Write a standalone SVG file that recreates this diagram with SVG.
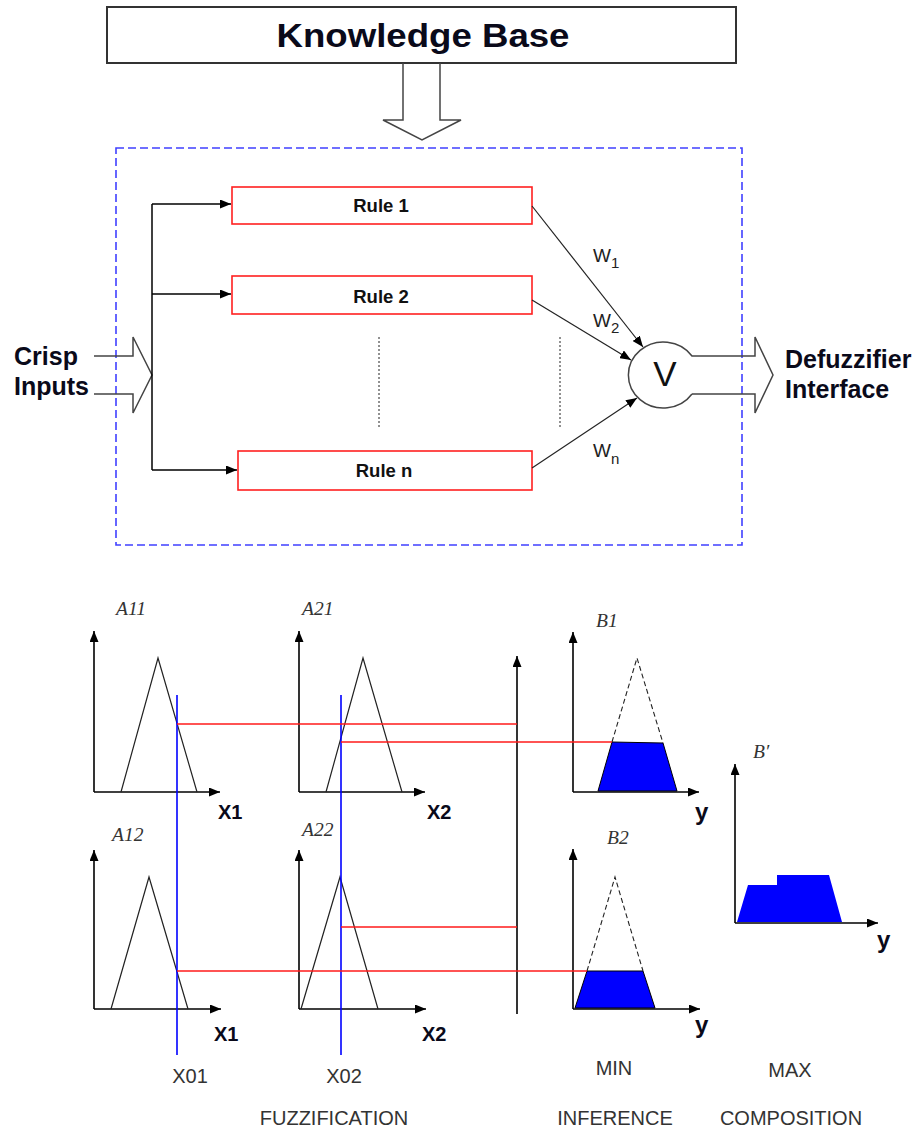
<svg xmlns="http://www.w3.org/2000/svg" width="921" height="1131" viewBox="0 0 921 1131">
<defs>
<marker id="ah" markerUnits="userSpaceOnUse" markerWidth="11" markerHeight="9" refX="11" refY="4.5" orient="auto"><path d="M0,0 L11,4.5 L0,9 z" fill="#000"/></marker>
<style>
.kb{fill:#fff;stroke:#333;stroke-width:2}
.hollow{fill:none;stroke:#444;stroke-width:1.5;stroke-linejoin:miter}
.rule{fill:#fff;stroke:#ff2020;stroke-width:1.6}
.rt{font-family:"Liberation Sans",Arial,sans-serif;font-weight:bold;font-size:18.5px;fill:#111;text-anchor:middle}
.bold{font-family:"Liberation Sans",Arial,sans-serif;font-weight:bold;fill:#0a0a1a}
.reg{font-family:"Liberation Sans",Arial,sans-serif;fill:#333;font-size:20px}
.it{font-family:"Liberation Serif","Times New Roman",serif;font-style:italic;font-size:19.5px;fill:#333}
.conn{stroke:#000;stroke-width:1.5;fill:none}
.thin{stroke:#222;stroke-width:1.2;fill:none}
.dot{stroke:#222;stroke-width:1;stroke-dasharray:2 2;fill:none}
.axis{stroke:#000;stroke-width:1.6;fill:none}
.tri{stroke:#222;stroke-width:1.2;fill:none}
.dtri{stroke:#222;stroke-width:1.1;fill:none;stroke-dasharray:5 3}
.blue{stroke:#0000ff;stroke-width:1.6;fill:none}
.red{stroke:#ff1a1a;stroke-width:1.6;fill:none}
.area{fill:#0000ff;stroke:#000;stroke-width:1}
.w{font-family:"Liberation Sans",Arial,sans-serif;fill:#222;font-size:19px}
</style>
</defs>

<g id="knowledge-base">
<rect class="kb" x="107" y="7" width="629" height="56"/>
<text class="bold" x="423" y="47" font-size="34" text-anchor="middle" textLength="293" lengthAdjust="spacingAndGlyphs">Knowledge Base</text>
<path class="hollow" d="M403,63 L403,120 L383,120 L422,140 L461,120 L440,120 L440,63"/>
</g>

<g id="inference-box">
<rect x="116" y="148" width="626" height="397" fill="none" stroke="#4040ff" stroke-width="1.6" stroke-dasharray="8 4"/>
</g>

<g id="crisp-inputs">
<path class="hollow" d="M94,356 L133,356 L133,337 L152,375 L133,413 L133,394 L94,394" stroke="#666"/>
<text class="bold" x="14" y="365" font-size="25">Crisp</text>
<text class="bold" x="14" y="395" font-size="25">Inputs</text>
</g>

<g id="rule1"><rect class="rule" x="232" y="187" width="300" height="37"/><text class="rt" x="381" y="212">Rule 1</text></g>
<g id="rule2"><rect class="rule" x="232" y="276" width="300" height="38"/><text class="rt" x="381" y="303">Rule 2</text></g>
<g id="rulen"><rect class="rule" x="238" y="451" width="294" height="39"/><text class="rt" x="384" y="477">Rule n</text></g>

<g id="or-node">
<path class="hollow" stroke="#333" d="M692,394 L755,394 L755,413 L773,375 L755,337 L755,356 L692,356 A35,33 0 1,0 692,394"/>
<text x="665" y="386" font-family="Liberation Sans,Arial,sans-serif" font-size="35" fill="#111" text-anchor="middle">V</text>
</g>

<g id="defuzzifier">
<text class="bold" x="785" y="368" font-size="25">Defuzzifier</text>
<text class="bold" x="785" y="398" font-size="25">Interface</text>
</g>

<g id="connectors">
<path class="conn" d="M152,204 L152,470"/>
<path class="conn" d="M152,204 L231,204" marker-end="url(#ah)"/>
<path class="conn" d="M152,294 L231,294" marker-end="url(#ah)"/>
<path class="conn" d="M152,470 L237,470" marker-end="url(#ah)"/>
<path class="thin" d="M532,206 L643,347" marker-end="url(#ah)"/>
<path class="thin" d="M532,300 L631,360" marker-end="url(#ah)"/>
<path class="thin" d="M532,468 L637,398" marker-end="url(#ah)"/>
<path class="dot" d="M379,337 L379,427"/>
<path class="dot" d="M560,337 L560,427"/>
</g>

<g id="weights">
<text class="w" x="593" y="262">W<tspan font-size="15" dy="6">1</tspan></text>
<text class="w" x="593" y="327">W<tspan font-size="15" dy="6">2</tspan></text>
<text class="w" x="593" y="457">W<tspan font-size="15" dy="7">n</tspan></text>
</g>

<g id="chart-a11">
<text class="it" x="116" y="615">A11</text>
<path class="axis" d="M94,792 L94,631" marker-end="url(#ah)"/>
<path class="axis" d="M94,792 L220,792" marker-end="url(#ah)"/>
<path class="tri" d="M121,792 L158,658 L197,792"/>
<text class="bold" x="218" y="819" font-size="20">X1</text>
</g>
<g id="chart-a21">
<text class="it" x="302" y="615">A21</text>
<path class="axis" d="M299,792 L299,631" marker-end="url(#ah)"/>
<path class="axis" d="M299,792 L425,792" marker-end="url(#ah)"/>
<path class="tri" d="M326,792 L363,658 L402,792"/>
<text class="bold" x="427" y="819" font-size="20">X2</text>
</g>
<g id="chart-a12">
<text class="it" x="112" y="841">A12</text>
<path class="axis" d="M94,1009 L94,850" marker-end="url(#ah)"/>
<path class="axis" d="M94,1009 L221,1009" marker-end="url(#ah)"/>
<path class="tri" d="M111,1009 L149,877 L188,1009"/>
<text class="bold" x="214" y="1041" font-size="20">X1</text>
</g>
<g id="chart-a22">
<text class="it" x="302" y="836">A22</text>
<path class="axis" d="M299,1009 L299,850" marker-end="url(#ah)"/>
<path class="axis" d="M299,1009 L426,1009" marker-end="url(#ah)"/>
<path class="tri" d="M301,1009 L340,877 L378,1009"/>
<text class="bold" x="422" y="1041" font-size="20">X2</text>
</g>

<g id="chart-b1">
<text class="it" x="596" y="627">B1</text>
<path class="area" d="M598,791 L612,742 L663,743 L677,791 Z"/>
<path class="dtri" d="M612,742 L637,658 L663,743"/>
<path class="axis" d="M573,792 L573,632" marker-end="url(#ah)"/>
<path class="axis" d="M573,792 L699,792" marker-end="url(#ah)"/>
<text class="bold" x="695" y="820" font-size="24">y</text>
</g>
<g id="chart-b2">
<text class="it" x="607" y="844">B2</text>
<path class="area" d="M575,1008 L587,971 L643,971 L655,1008 Z"/>
<path class="dtri" d="M587,971 L615,877 L643,971"/>
<path class="axis" d="M573,1009 L573,849" marker-end="url(#ah)"/>
<path class="axis" d="M573,1009 L700,1009" marker-end="url(#ah)"/>
<text class="bold" x="695" y="1033" font-size="24">y</text>
</g>
<g id="chart-bprime">
<text class="it" x="753" y="758">B′</text>
<path d="M737,922 L748,885 L777,885 L777,875 L829,875 L842,922 Z" fill="#0000ff"/>
<path class="axis" d="M735,923 L735,764" marker-end="url(#ah)"/>
<path class="axis" d="M735,923 L878,923" marker-end="url(#ah)"/>
<text class="bold" x="877" y="948" font-size="24">y</text>
</g>

<g id="inference-lines">
<path class="axis" d="M517,1014 L517,656" marker-end="url(#ah)"/>
<path class="blue" d="M177,695 L177,1055"/>
<path class="blue" d="M341,695 L341,1055"/>
<path class="red" d="M177,724 L517,724"/>
<path class="red" d="M341,742 L612,742"/>
<path class="red" d="M341,927 L517,927"/>
<path class="red" d="M177,971 L587,971"/>
</g>

<g id="captions">
<text class="reg" x="190" y="1083" text-anchor="middle">X01</text>
<text class="reg" x="344" y="1083" text-anchor="middle">X02</text>
<text class="reg" x="334" y="1125" text-anchor="middle">FUZZIFICATION</text>
<text class="reg" x="614" y="1075" text-anchor="middle">MIN</text>
<text class="reg" x="790" y="1077" text-anchor="middle">MAX</text>
<text class="reg" x="615" y="1125" text-anchor="middle">INFERENCE</text>
<text class="reg" x="791" y="1125" text-anchor="middle">COMPOSITION</text>
</g>
</svg>
